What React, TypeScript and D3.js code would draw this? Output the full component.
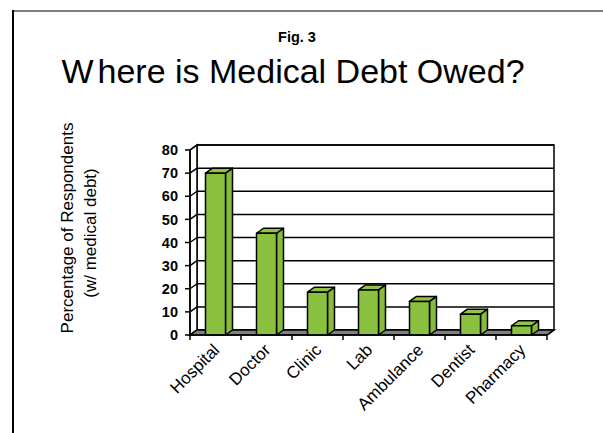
import React from "react";
import * as d3 from "d3";

const categories = ["Hospital", "Doctor", "Clinic", "Lab", "Ambulance", "Dentist", "Pharmacy"];
const values = [70, 44, 18.5, 19.5, 14.5, 9, 4];
const yTicks = [0, 10, 20, 30, 40, 50, 60, 70, 80];
const figLabel = "Fig. 3";
const titleFirst = "W";
const titleRest = "here is Medical Debt Owed?";
const yTitle1 = "Percentage of Respondents";
const yTitle2 = "(w/ medical debt)";

const W = 603;
const H = 433;
const FONT = "Arial, 'Liberation Sans', sans-serif";
const DX = 7;
const DY = -5;

export default function App() {
  const x = d3
    .scaleBand<string>()
    .domain(categories)
    .range([190, 547])
    .paddingInner(0.608)
    .paddingOuter(0.304);
  const y = d3.scaleLinear().domain([0, 80]).range([335, 150]);
  const step = x.step();
  const x0 = 190;
  const x1 = 547;
  const y0 = y(0);
  const yTop = y(80);
  const bw = x.bandwidth();

  const pts = (p: [number, number][]) => p.map((q) => q.join(",")).join(" ");

  return (
    <svg
      width={W}
      height={H}
      style={{ position: "absolute", left: 0, top: 0, background: "#fff" }}
      fontFamily={FONT}
    >
      <rect x={0} y={0} width={W} height={H} fill="#fff" />
      {/* frame */}
      <line x1={13} y1={11} x2={W} y2={11} stroke="#555" strokeWidth={1.5} />
      <line x1={13} y1={10} x2={13} y2={H} stroke="#000" strokeWidth={2} />

      {/* titles */}
      <text x={297} y={42} textAnchor="middle" fontSize={14.5} fontWeight="bold">
        {figLabel}
      </text>
      <text x={293} y={83} textAnchor="middle" fontSize={34}>
        <tspan>{titleFirst}</tspan>
        <tspan dx={4}>{titleRest}</tspan>
      </text>

      {/* y axis title */}
      <g transform="translate(73,228) rotate(-90)">
        <text x={0} y={0} textAnchor="middle" fontSize={17}>
          {yTitle1}
        </text>
      </g>
      <g transform="translate(96,233) rotate(-90)">
        <text x={0} y={0} textAnchor="middle" fontSize={17}>
          {yTitle2}
        </text>
      </g>

      {/* back wall */}
      <rect
        x={x0 + DX}
        y={yTop + DY}
        width={x1 - x0}
        height={y0 - yTop}
        fill="#fff"
        stroke="#000"
        strokeWidth={1.5}
      />
      {/* side wall */}
      <polygon
        points={pts([
          [x0, yTop],
          [x0 + DX, yTop + DY],
          [x0 + DX, y0 + DY],
          [x0, y0],
        ])}
        fill="#fff"
        stroke="#000"
        strokeWidth={1.5}
      />
      {/* gridlines */}
      {yTicks.map((t) => (
        <g key={"g" + t}>
          <line
            x1={x0 + DX}
            x2={x1 + DX}
            y1={y(t) + DY}
            y2={y(t) + DY}
            stroke="#000"
            strokeWidth={1.5}
          />
          <line x1={x0} x2={x0 + DX} y1={y(t)} y2={y(t) + DY} stroke="#000" strokeWidth={1.5} />
        </g>
      ))}
      {/* floor */}
      <polygon
        points={pts([
          [x0, y0],
          [x1, y0],
          [x1 + DX, y0 + DY],
          [x0 + DX, y0 + DY],
        ])}
        fill="#808080"
        stroke="#000"
        strokeWidth={1.5}
      />

      {/* bars */}
      {categories.map((c, i) => {
        const bx = x(c) as number;
        const yv = y(values[i]);
        return (
          <g key={c} stroke="#000" strokeWidth={1.5} strokeLinejoin="round">
            <polygon
              points={pts([
                [bx + bw, yv],
                [bx + bw + DX, yv + DY],
                [bx + bw + DX, y0 + DY],
                [bx + bw, y0],
              ])}
              fill="#86BC3B"
            />
            <polygon
              points={pts([
                [bx, yv],
                [bx + DX, yv + DY],
                [bx + bw + DX, yv + DY],
                [bx + bw, yv],
              ])}
              fill="#8FC545"
            />
            <rect x={bx} y={yv} width={bw} height={y0 - yv} fill="#8AC13F" />
          </g>
        );
      })}

      {/* front axes */}
      <line x1={x0} x2={x0} y1={yTop} y2={y0} stroke="#000" strokeWidth={1.5} />
      <line x1={x0} x2={x1} y1={y0} y2={y0} stroke="#000" strokeWidth={1.5} />
      <line x1={x1} x2={x1 + DX} y1={y0} y2={y0 + DY} stroke="#000" strokeWidth={1.5} />
      {yTicks.map((t) => (
        <g key={"t" + t}>
          <line x1={x0 - 5} x2={x0} y1={y(t)} y2={y(t)} stroke="#000" strokeWidth={1.5} />
          <text
            x={x0 - 12}
            y={y(t)}
            dy="0.36em"
            textAnchor="end"
            fontSize={14.5}
            fontWeight="bold"
          >
            {t}
          </text>
        </g>
      ))}
      {d3.range(categories.length + 1).map((i) => (
        <line
          key={"bt" + i}
          x1={x0 + i * step}
          x2={x0 + i * step}
          y1={y0}
          y2={y0 + 5}
          stroke="#000"
          strokeWidth={1.5}
        />
      ))}
      {categories.map((c) => {
        const cx = (x(c) as number) + bw / 2;
        return (
          <text
            key={"l" + c}
            transform={`translate(${cx + 5},${y0 + 16}) rotate(-45)`}
            textAnchor="end"
            fontSize={17}
          >
            {c}
          </text>
        );
      })}
    </svg>
  );
}
